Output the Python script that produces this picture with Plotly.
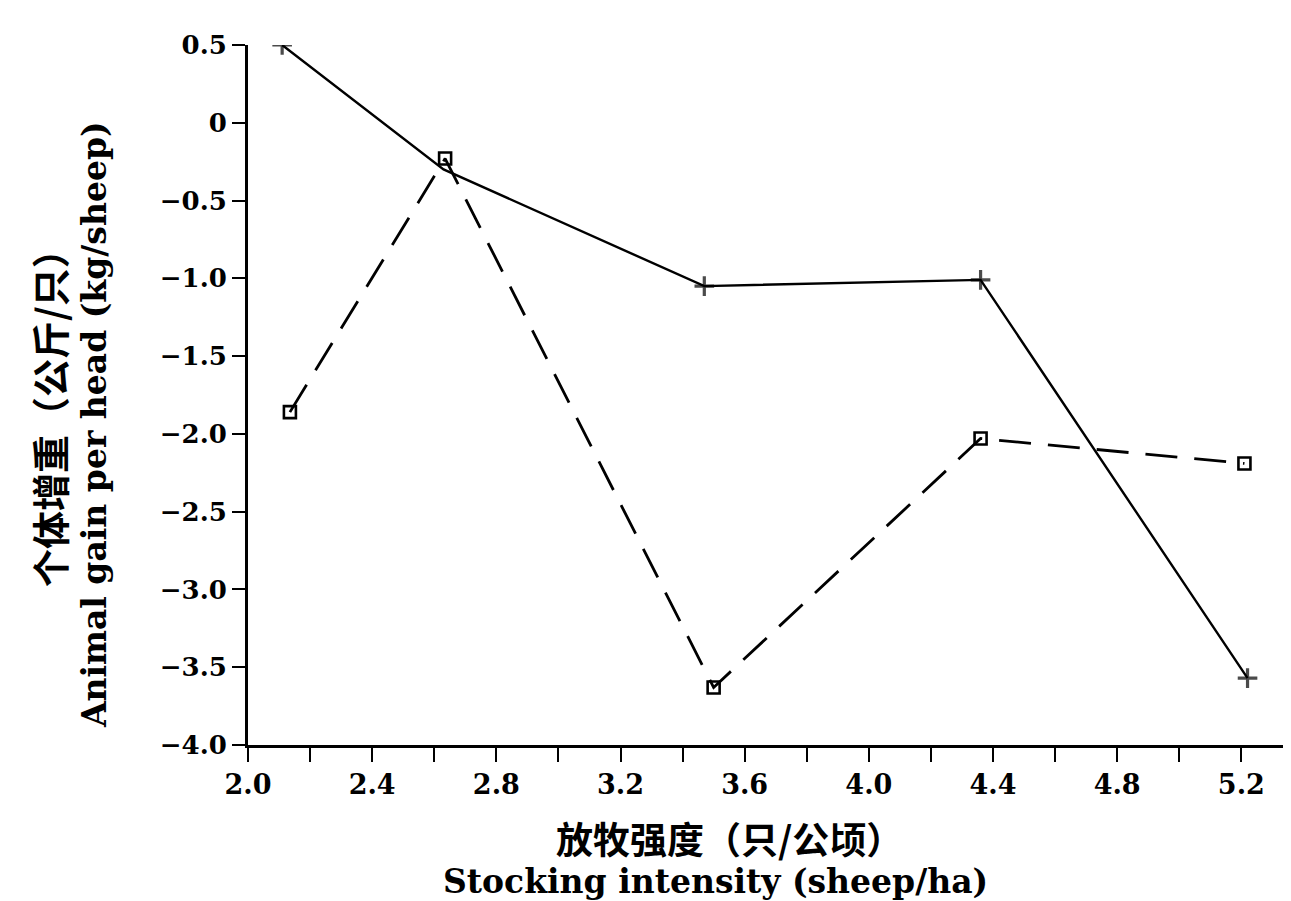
import plotly.graph_objects as go

# Data
solid_x = [2.11, 2.63, 3.47, 4.36, 5.22]
solid_y = [0.50, -0.30, -1.05, -1.01, -3.57]
dashed_x = [2.135, 2.635, 3.50, 4.36, 5.21]
dashed_y = [-1.86, -0.23, -3.63, -2.03, -2.19]

x_tickvals = [2.0, 2.4, 2.8, 3.2, 3.6, 4.0, 4.4, 4.8, 5.2]
x_ticktext = ["2.0", "2.4", "2.8", "3.2", "3.6", "4.0", "4.4", "4.8", "5.2"]
y_tickvals = [0.5, 0, -0.5, -1.0, -1.5, -2.0, -2.5, -3.0, -3.5, -4.0]
y_ticktext = ["0.5", "0", "−0.5", "−1.0", "−1.5", "−2.0", "−2.5", "−3.0", "−3.5", "−4.0"]

y_title_cn = "个体增重（公斤/只）"
y_title_en = "Animal gain per head (kg/sheep)"
x_title_cn = "放牧强度（只/公顷）"
x_title_en = "Stocking intensity (sheep/ha)"

serif = "DejaVu Serif"
cjk = "Noto Sans CJK SC"

# The page body has an 8px default margin, so the figure is 8px smaller
W, H = 1283, 893

fig = go.Figure()
fig.add_trace(go.Scatter(
    x=solid_x, y=solid_y, mode="lines+markers",
    line=dict(color="black", width=2.4),
    marker=dict(symbol="cross-thin", size=[14, 0, 14, 14, 14], color="black",
                line=dict(color="black", width=3.2)),
    showlegend=False,
))
fig.add_trace(go.Scatter(
    x=dashed_x, y=dashed_y, mode="lines+markers",
    line=dict(color="black", width=2.8, dash="32px,17px"),
    marker=dict(symbol="square-open", size=12, color="black",
                line=dict(color="black", width=2.6)),
    showlegend=False,
))

fig.update_layout(
    width=W, height=H,
    margin=dict(l=240, r=0, t=37, b=156),
    paper_bgcolor="white", plot_bgcolor="white",
    font=dict(family=serif, color="black"),
    xaxis=dict(
        range=[2.0, 5.36], showgrid=False, zeroline=False,
        showline=True, linecolor="black", linewidth=3,
        tickmode="array", tickvals=x_tickvals, ticktext=x_ticktext,
        ticks="outside", ticklen=14, tickwidth=2, tickcolor="black",
        minor=dict(tickmode="linear", tick0=2.0, dtick=0.2, ticks="outside",
                   ticklen=14, tickwidth=2, tickcolor="black"),
        tickfont=dict(family=serif, size=27, color="black", weight="bold"),
    ),
    yaxis=dict(
        range=[-4.0, 0.5], showgrid=False, zeroline=False,
        showline=True, linecolor="black", linewidth=3,
        tickmode="array", tickvals=y_tickvals, ticktext=y_ticktext,
        ticks="outside", ticklen=13, tickwidth=2, tickcolor="black",
        tickfont=dict(family=serif, size=26, color="black", weight="bold"),
    ),
)

fig.add_annotation(
    text=y_title_cn, xref="paper", yref="paper", x=0, y=0.48,
    xanchor="center", yanchor="middle", xshift=-200, textangle=-90,
    showarrow=False,
    font=dict(family=cjk, size=38, color="black", weight="bold"),
)
fig.add_annotation(
    text=y_title_en, xref="paper", yref="paper", x=0, y=0.457,
    xanchor="center", yanchor="middle", xshift=-154, textangle=-90,
    showarrow=False,
    font=dict(family=serif, size=33, color="black", weight="bold"),
)
fig.add_annotation(
    text=x_title_cn, xref="paper", yref="paper", x=0.462, y=0,
    xanchor="center", yanchor="middle", yshift=-93,
    showarrow=False,
    font=dict(family=cjk, size=37, color="black", weight="bold"),
)
fig.add_annotation(
    text=x_title_en, xref="paper", yref="paper", x=0.448, y=0,
    xanchor="center", yanchor="middle", yshift=-136,
    showarrow=False,
    font=dict(family=serif, size=33, color="black", weight="bold"),
)

fig.write_html("out.html")
